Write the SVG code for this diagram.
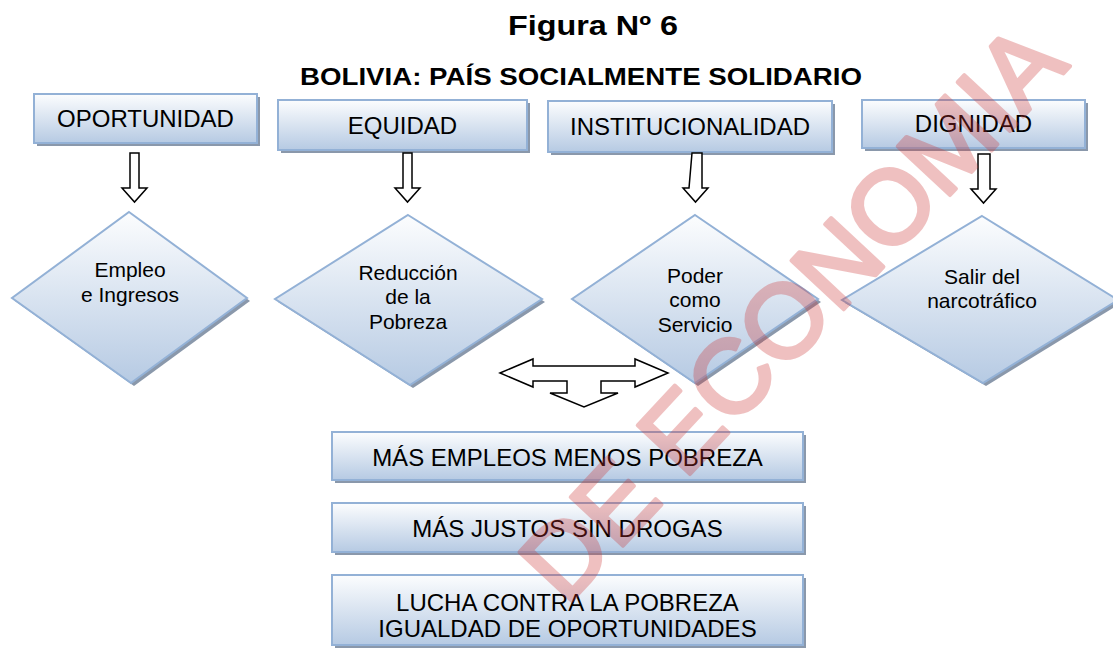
<svg xmlns="http://www.w3.org/2000/svg" width="1113" height="648" viewBox="0 0 1113 648">
<style>
.box{fill:url(#g);stroke:#93b1d6;stroke-width:2}
.sh{fill:#8a98ab}
.lbl{font-family:"Liberation Sans",Arial,sans-serif;font-size:24px;fill:#000;text-anchor:middle}
.dl{font-family:"Liberation Sans",Arial,sans-serif;font-size:21px;fill:#000;text-anchor:middle}
.arr{fill:#fff;stroke:#000;stroke-width:1.5;stroke-linejoin:miter}
.ttl{font-family:"Liberation Sans",Arial,sans-serif;font-weight:bold;fill:#000;text-anchor:middle}
</style>
<defs>
<linearGradient id="g" x1="0" y1="0" x2="0" y2="1">
<stop offset="0" stop-color="#fcfdfe"/>
<stop offset="1" stop-color="#b6cae3"/>
</linearGradient>
</defs>
<rect width="1113" height="648" fill="#fff"/>
<text class="ttl" x="593" y="35" font-size="28" textLength="170" lengthAdjust="spacingAndGlyphs">Figura Nº 6</text>
<text class="ttl" x="581" y="85" font-size="24" textLength="562" lengthAdjust="spacingAndGlyphs">BOLIVIA: PAÍS SOCIALMENTE SOLIDARIO</text>

<g id="oportunidad">
<rect class="sh" x="37" y="97" width="223" height="49"/>
<rect class="box" x="34" y="94" width="223" height="49"/>
<text class="lbl" x="145.5" y="127">OPORTUNIDAD</text>
</g>
<g id="equidad">
<rect class="sh" x="281" y="103" width="249" height="50"/>
<rect class="box" x="278" y="100" width="249" height="50"/>
<text class="lbl" x="402.5" y="133.5">EQUIDAD</text>
</g>
<g id="institucionalidad">
<rect class="sh" x="551" y="104" width="284" height="51"/>
<rect class="box" x="548" y="101" width="284" height="51"/>
<text class="lbl" x="690" y="134.5">INSTITUCIONALIDAD</text>
</g>
<g id="dignidad">
<rect class="sh" x="865" y="103" width="223" height="48"/>
<rect class="box" x="862" y="100" width="223" height="48"/>
<text class="lbl" x="973.5" y="132">DIGNIDAD</text>
</g>

<g id="empleo">
<polygon class="sh" points="132,215 250,301 134,386 15,301"/>
<polygon class="box" points="129,212 247,298 131,383 12,298"/>
<text class="dl" x="130" y="277">Empleo</text>
<text class="dl" x="130" y="302">e Ingresos</text>
</g>
<g id="reduccion">
<polygon class="sh" points="411,218 545,302 413,388 278,302"/>
<polygon class="box" points="408,215 542,299 410,385 275,299"/>
<text class="dl" x="408" y="280">Reducción</text>
<text class="dl" x="408" y="304">de la</text>
<text class="dl" x="408" y="329">Pobreza</text>
</g>
<g id="poder">
<polygon class="sh" points="698,218 821,302 698,386 575,302"/>
<polygon class="box" points="695,215 818,299 695,383 572,299"/>
<text class="dl" x="695" y="283">Poder</text>
<text class="dl" x="695" y="307">como</text>
<text class="dl" x="695" y="332">Servicio</text>
</g>
<g id="salir">
<polygon class="sh" points="985,219 1121,303 986,386 845,303"/>
<polygon class="box" points="982,216 1118,300 983,383 842,300"/>
<text class="dl" x="982" y="284">Salir del</text>
<text class="dl" x="982" y="308">narcotráfico</text>
</g>

<g id="mas-empleos">
<rect class="sh" x="335" y="435" width="471" height="48"/>
<rect class="box" x="332" y="432" width="471" height="48"/>
<text class="lbl" x="567.5" y="465.5">MÁS EMPLEOS MENOS POBREZA</text>
</g>
<g id="mas-justos">
<rect class="sh" x="335" y="506" width="471" height="49"/>
<rect class="box" x="332" y="503" width="471" height="49"/>
<text class="lbl" x="567.5" y="536.5">MÁS JUSTOS SIN DROGAS</text>
</g>
<g id="lucha">
<rect class="sh" x="335" y="578" width="471" height="70"/>
<rect class="box" x="332" y="575" width="471" height="70"/>
<text class="lbl" x="567.5" y="610.5">LUCHA CONTRA LA POBREZA</text>
<text class="lbl" x="567.5" y="636.5">IGUALDAD DE OPORTUNIDADES</text>
</g>

<g id="connectors">
<path class="arr" d="M130,153 H139 V188 H147 L134.5,202 L122,188 H130 Z"/>
<path class="arr" d="M403,153 H412 V188 H420 L407.5,202 L395,188 H403 Z"/>
<path class="arr" d="M692,153 H702 V188 H708 L695.5,202 L683,188 H689 Z" />
<path class="arr" d="M978,154 H990 V189 H996 L983.5,203 L971,189 H978 Z"/>
<path class="arr" d="M500,373 L533,359 L533,366 L635,366 L635,359 L668,373 L635,387 L635,381 L601,381 L601,393 L618,393 L584,407 L550,393 L567,393 L567,381 L533,381 L533,387 Z"/>
</g>

<text transform="translate(566,607) rotate(-47)" font-family="Liberation Sans,Arial,sans-serif" font-size="104" fill="#cc3333" stroke="#cc3333" stroke-width="4" stroke-linejoin="round" opacity="0.3">DE ECONOMIA</text>
</svg>
